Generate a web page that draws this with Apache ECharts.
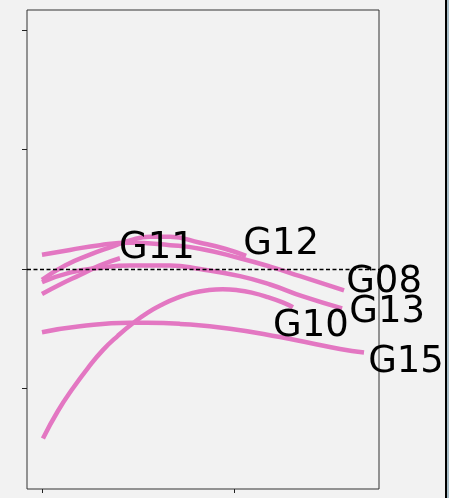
<!DOCTYPE html>
<html>
<head>
<meta charset="utf-8">
<script src="https://cdn.jsdelivr.net/npm/echarts@6/dist/echarts.min.js"></script>
<style>
  html, body { margin: 0; padding: 0; background: #f2f2f2; }
  #chart { width: 449px; height: 498px; }
</style>
</head>
<body>
<div id="chart"></div>
<script>
// Curves per group: [x, y] pairs
const G08 = [[0, 0.12], [1.46, 0.16], [3.02, 0.20], [4.58, 0.22], [6.67, 0.20], [8.23, 0.17], [10.31, 0.09], [11.88, 0.02], [13.44, -0.06], [15.73, -0.18]];
const G12 = [[0, -0.09], [1.20, 0.03], [2.50, 0.12], [3.70, 0.19], [4.58, 0.24], [5.63, 0.27], [6.67, 0.27], [8.23, 0.22], [9.53, 0.17], [10.63, 0.11]];
const G13 = [[0, -0.11], [1.46, -0.03], [3.02, 0.01], [4.58, 0.03], [6.67, 0.03], [8.23, 0.0], [10.31, -0.06], [11.88, -0.13], [13.59, -0.23], [15.63, -0.33]];
const G11 = [[0, -0.21], [0.94, -0.13], [1.98, -0.05], [3.02, 0.03], [4.06, 0.09]];
const G10 = [[0.05, -1.42], [0.83, -1.19], [1.61, -1.00], [2.39, -0.83], [3.17, -0.68], [3.95, -0.56], [4.73, -0.455], [5.51, -0.365], [6.29, -0.295], [7.07, -0.24], [7.85, -0.20], [8.63, -0.178], [9.41, -0.17], [10.19, -0.178], [10.97, -0.20], [11.75, -0.235], [12.53, -0.28], [13.07, -0.32]];
const G15 = [[0, -0.53], [1.98, -0.48], [4.58, -0.45], [5.47, -0.45], [7.19, -0.46], [9.79, -0.50], [12.40, -0.57], [13.96, -0.62], [15.52, -0.67], [16.77, -0.70]];

const groupNames = ['G08', 'G12', 'G13', 'G11', 'G10', 'G15'];
const groupData = [G08, G12, G13, G11, G10, G15];
// label placement relative to each curve's end point
const labelOffsets = [[40, -8], [35, -11], [45, 4], [37, -10], [18, 19], [42, 10]];

const xTicks = [0, 10];
const yTicks = [-1, 0, 1, 2];
const refLevel = 0;

const chart = echarts.init(document.getElementById('chart'), null, { renderer: 'canvas' });

const series = groupNames.map((name, i) => ({
  name: name,
  type: 'line',
  data: groupData[i],
  smooth: 0.5,
  showSymbol: false,
  symbol: 'none',
  lineStyle: { color: '#e377c2', width: 4.5, cap: 'butt' },
  z: 3,
  endLabel: {
    show: true,
    formatter: name,
    distance: 0,
    align: 'center',
    verticalAlign: 'middle',
    offset: labelOffsets[i],
    fontFamily: 'DejaVu Sans',
    fontSize: 37,
    color: '#000'
  }
}));

// dashed reference line
series.push({
  type: 'line',
  data: [],
  markLine: {
    silent: true,
    symbol: 'none',
    label: { show: false },
    lineStyle: { color: '#000', width: 1.3, type: [4, 2.5] },
    data: [{ yAxis: refLevel }]
  },
  z: 2
});

chart.setOption({
  animation: false,
  backgroundColor: '#f2f2f2',
  grid: {
    left: 27, top: 10, right: 70, bottom: 9,
    show: true, borderColor: '#333', borderWidth: 1, backgroundColor: 'transparent'
  },
  xAxis: {
    type: 'value',
    min: -0.78, max: 17.55,
    axisLine: { show: false, onZero: false },
    splitLine: { show: false },
    axisLabel: { show: false },
    axisTick: { show: true, inside: false, length: 4, customValues: xTicks, lineStyle: { color: '#222' } }
  },
  yAxis: {
    type: 'value',
    min: -1.844, max: 2.171,
    axisLine: { show: false, onZero: false },
    splitLine: { show: false },
    axisLabel: { show: false },
    axisTick: { show: true, inside: false, length: 5, customValues: yTicks, lineStyle: { color: '#222' } }
  },
  graphic: [
    { type: 'rect', shape: { x: 445, y: 0, width: 2, height: 498 }, style: { fill: '#000' }, silent: true },
    { type: 'rect', shape: { x: 447, y: 0, width: 2, height: 498 }, style: { fill: '#a9bec8' }, silent: true }
  ],
  series: series
});
</script>
</body>
</html>
